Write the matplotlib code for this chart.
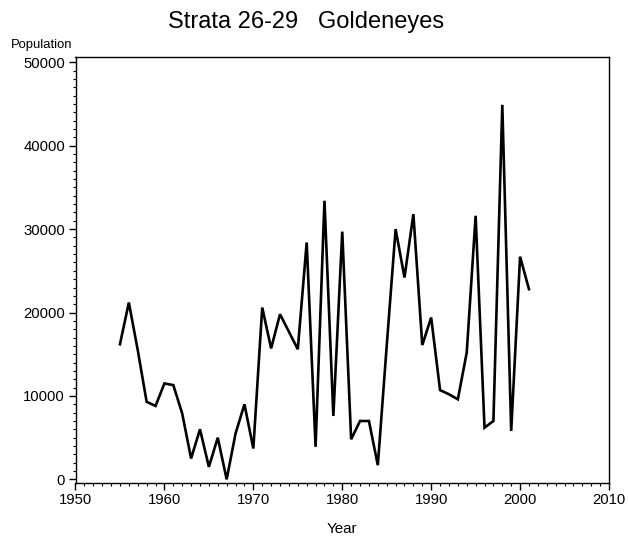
import matplotlib
matplotlib.use("Agg")
import matplotlib.pyplot as plt
from matplotlib.ticker import MultipleLocator

plt.rcParams["font.family"] = ["Liberation Sans", "DejaVu Sans"]

# data
years = list(range(1955, 2002))
population = [
    16200, 21200, 15500, 9300, 8800, 11500, 11300, 7900, 2500, 6000,
    1500, 5000, 0, 5500, 9000, 3700, 20600, 15700, 19800, 17700,
    15600, 28400, 3900, 33400, 7600, 29700, 4800, 7000, 7000, 1700,
    16000, 30000, 24200, 31800, 16100, 19400, 10700, 10200, 9600, 15200,
    31600, 6200, 7000, 44900, 5800, 26700, 22800,
]
x_ticks = [1950, 1960, 1970, 1980, 1990, 2000, 2010]
y_ticks = [0, 10000, 20000, 30000, 40000, 50000]

W, H = 628, 540
fig = plt.figure(figsize=(W / 100, H / 100), dpi=100)
# axes box in pixels: left 75.5, right 609, top 57.3, bottom 482.7
ax = fig.add_axes([75.5 / W, 1 - 482.7 / H, (609 - 75.5) / W, (482.7 - 57.3) / H])

ax.plot(years, population, color="black", lw=1.9, solid_joinstyle="miter")

ax.set_xlim(1950, 2010)
ax.set_ylim(-400, 50600)
ax.set_xticks(x_ticks)
ax.set_yticks(y_ticks)
ax.xaxis.set_minor_locator(MultipleLocator(1))
ax.yaxis.set_minor_locator(MultipleLocator(1000))
ax.tick_params(which="major", direction="out", length=5, width=1,
               labelsize=10.7, colors="black", pad=2.5)
ax.tick_params(which="minor", direction="out", length=2.5, width=0.8)
for s in ax.spines.values():
    s.set_linewidth(1)
    s.set_color("black")

fig.text(306 / W, 1 - 22 / H, "Strata 26-29   Goldeneyes",
         ha="center", va="center", fontsize=17)
fig.text(72 / W, 1 - 45 / H, "Population", ha="right", va="center", fontsize=9.4)
fig.text(342 / W, 1 - 529 / H, "Year", ha="center", va="center", fontsize=10.9)

fig.savefig("out.png", dpi=100)
